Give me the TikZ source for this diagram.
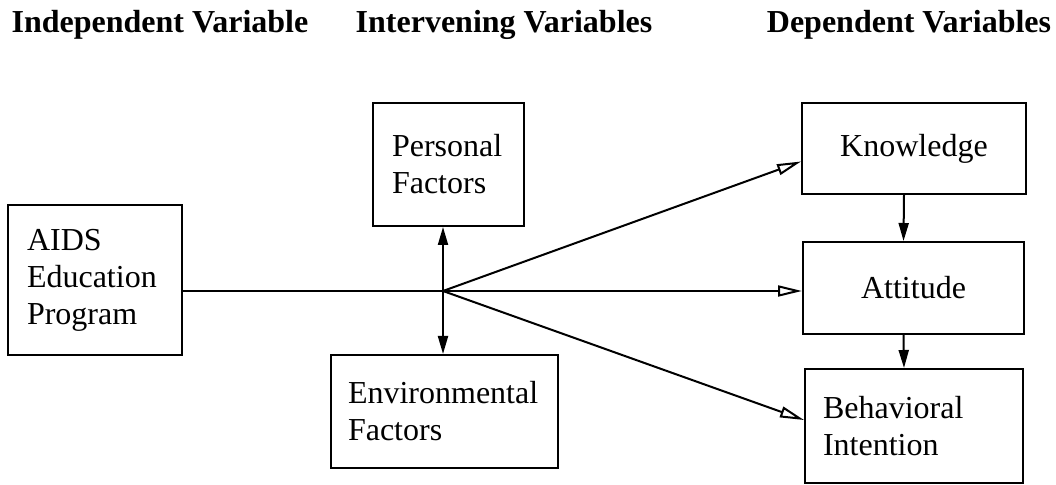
\documentclass[tikz,border=0pt]{standalone}
\usepackage{fontspec}
\setmainfont{Liberation Serif}
\usetikzlibrary{arrows.meta,positioning}
\tikzstyle{factor}=[draw,line width=1pt,inner sep=0pt,font=\fontsize{16}{18.5}\selectfont]
\tikzstyle{heading}=[anchor=base,font=\fontsize{16}{18}\selectfont\bfseries]
\tikzstyle{edge}=[draw,line width=1pt]
\tikzstyle{open arrow}=[edge,-{Triangle[open,length=12pt,width=5.5pt]}]
\tikzstyle{solid arrow}=[edge,-{Triangle[length=9pt,width=5pt]}]

\begin{document}
\begin{tikzpicture}[x=0.5pt,y=-0.5pt]
    \useasboundingbox (0,0) rectangle (1056,485);
    % First we draw the headings
    \foreach \pos/\name/\text in {{(160,33)/indep/Independent Variable}, {(504,33)/interv/Intervening Variables}, {(909,33)/dep/Dependent Variables}}
        \node[heading] (\name) at \pos {\text};
    % Then the boxes
    \node[factor,minimum width=87pt,minimum height=75pt,text width=68pt,align=left] (aids) at (95,280) {AIDS\\Education\\Program};
    \node[factor,minimum width=75.5pt,minimum height=61.5pt,text width=56.5pt,align=left] (pers) at (448.5,164.5) {Personal\\Factors};
    \node[factor,minimum width=113.5pt,minimum height=56.5pt,text width=96.5pt,align=left] (env) at (444.5,411.5) {Environmental\\Factors};
    \node[factor,minimum width=112pt,minimum height=45.5pt] (know) at (914,148.5) {Knowledge};
    \node[factor,minimum width=110.5pt,minimum height=46pt] (att) at (913.5,288) {Attitude};
    \node[factor,minimum width=109pt,minimum height=57pt,text width=91pt,align=left] (beh) at (914,426) {Behavioral\\Intention};
    \coordinate (junc) at (443,291);
    % Connect boxes with arrows
    \path[edge] (aids.east |- junc) -- (junc);
    \path[solid arrow] (junc) -- (pers.south -| junc);
    \path[solid arrow] (junc) -- (env.north -| junc);
    \path[open arrow] (junc) -- ([yshift=-6.5pt]know.west);
    \path[open arrow] (junc) -- (att.west |- junc);
    \path[open arrow] (junc) -- ([yshift=3pt]beh.west);
    \foreach \source/\dest in {know/att, att/beh}
        \path[solid arrow] ([xshift=-5pt]\source.south) -- ([xshift=-5pt]\dest.north);
\end{tikzpicture}
\end{document}
